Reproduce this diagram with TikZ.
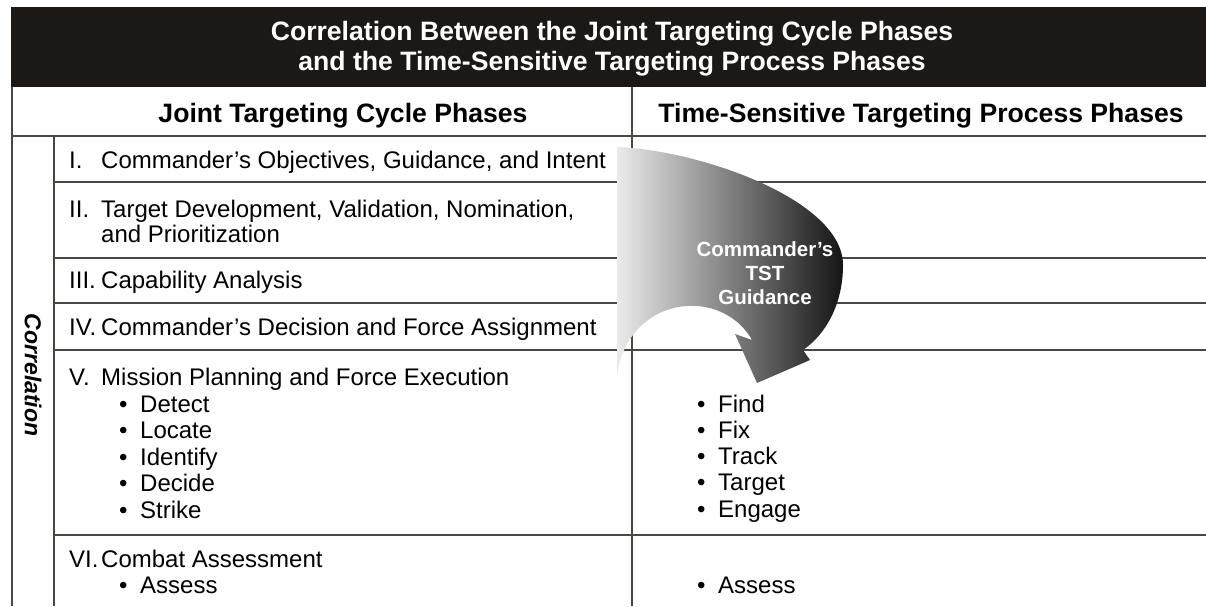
\documentclass[tikz,border=0pt]{standalone}
\usepackage{fontspec}
\setmainfont{Liberation Sans}

\definecolor{headblack}{HTML}{1C1815}
\definecolor{rulegray}{HTML}{4A4642}

\newcommand{\phase}[2]{\makebox[32pt][l]{#1}#2}
\newcommand{\itm}[1]{\makebox[21pt][l]{\textbullet}#1}

\begin{document}
\begin{tikzpicture}[x=1pt, y=-1pt,
	body/.style={anchor=base west, inner sep=0pt, font=\fontsize{24}{28}\selectfont},
	head/.style={anchor=base, inner sep=0pt, font=\fontsize{26.6}{30}\selectfont\bfseries},
	guide/.style={anchor=base, inner sep=0pt, text=white, font=\fontsize{20.5}{24}\selectfont\bfseries},
	rowline/.style={draw=rulegray, line width=1.6pt}]

	\useasboundingbox (0,0) rectangle (1206,606);

	% title bar
	\fill[headblack] (11,7) rectangle (1206,87);
	\node[head, text=white] (title1) at (612,40) {Correlation Between the Joint Targeting Cycle Phases};
	\node[head, text=white] (title2) at (612,70) {and the Time-Sensitive Targeting Process Phases};

	% column heads
	\node[head] (jtc) at (343,122) {Joint Targeting Cycle Phases};
	\node[head] (tst) at (921,122) {Time-Sensitive Targeting Process Phases};

	% grid
	\draw[rowline] (12,87) -- (12,606);
	\draw[rowline] (54,136) -- (54,606);
	\draw[rowline] (632,87) -- (632,606);
	\draw[rowline] (12,136) -- (1206,136);
	\draw[rowline] (54,182) -- (1206,182);
	\draw[rowline] (54,258) -- (1206,258);
	\draw[rowline] (54,303) -- (1206,303);
	\draw[rowline] (54,350) -- (1206,350);
	\draw[rowline] (54,535) -- (1206,535);

	\node[rotate=-90, inner sep=0pt, font=\fontsize{23}{27}\selectfont\bfseries\itshape] (corr) at (33,375) {Correlation};

	% joint targeting cycle phases
	\node[body] (ph1) at (69,168) {\phase{I.}{Commander's Objectives, Guidance, and Intent}};
	\node[body] (ph2a) at (69,217) {\phase{II.}{Target Development, Validation, Nomination,}};
	\node[body] (ph2b) at (101,242) {and Prioritization};
	\node[body] (ph3) at (69,288) {\phase{III.}{Capability Analysis}};
	\node[body] (ph4) at (69,335) {\phase{IV.}{Commander's Decision and Force Assignment}};
	\node[body] (ph5) at (69,385) {\phase{V.}{Mission Planning and Force Execution}};
	\node[body] (detect) at (119,412) {\itm{Detect}};
	\node[body] (locate) at (119,438) {\itm{Locate}};
	\node[body] (identify) at (119,465) {\itm{Identify}};
	\node[body] (decide) at (119,491) {\itm{Decide}};
	\node[body] (strike) at (119,518) {\itm{Strike}};
	\node[body] (ph6) at (69,567) {\phase{VI.}{Combat Assessment}};
	\node[body] (assessl) at (119,593) {\itm{Assess}};

	% time-sensitive targeting phases
	\node[body] (find) at (697,412) {\itm{Find}};
	\node[body] (fix) at (697,438) {\itm{Fix}};
	\node[body] (track) at (697,464) {\itm{Track}};
	\node[body] (target) at (697,490) {\itm{Target}};
	\node[body] (engage) at (697,517) {\itm{Engage}};
	\node[body] (assessr) at (697,593) {\itm{Assess}};

	% guidance arrow
	\shade[left color=black!8, right color=black!92]
		(617,147) .. controls (700,150) and (843,200) .. (843,265)
		.. controls (843,305) and (825,335) .. (803,350)
		-- (810,360) -- (757,383) -- (735,334) -- (752,340)
		.. controls (735,310) and (700,300) .. (670,309)
		.. controls (640,318) and (620,345) .. (617,377) -- cycle;
	\node[guide] (cmd) at (765,256) {Commander's};
	\node[guide] (tstg) at (765,280) {TST};
	\node[guide] (gdc) at (765,304) {Guidance};

\end{tikzpicture}
\end{document}
